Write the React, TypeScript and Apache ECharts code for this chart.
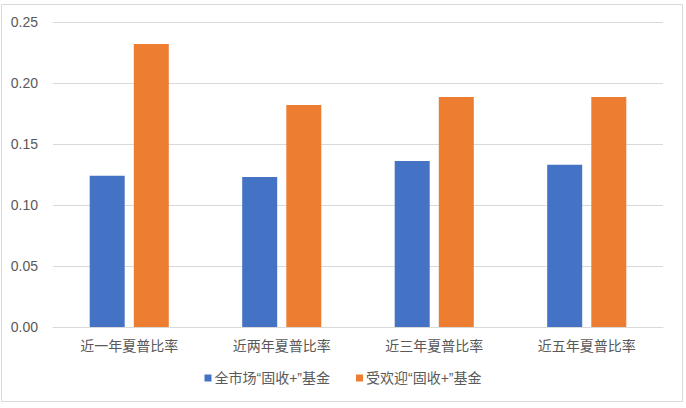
import React, { useEffect, useRef } from "react";
import * as echarts from "echarts";

const categories = ["近一年夏普比率", "近两年夏普比率", "近三年夏普比率", "近五年夏普比率"];
const seriesNames = ["全市场“固收+”基金", "受欢迎“固收+”基金"];
const allMarket = [0.124, 0.123, 0.136, 0.133];
const popular = [0.232, 0.182, 0.1885, 0.1885];

const FONT = "'Liberation Sans', Arial, 'Noto Sans CJK SC', sans-serif";
const TEXT = "#595959";
const GRID = "#d9d9d9";

export default function App() {
  const ref = useRef<HTMLDivElement>(null);
  useEffect(() => {
    document.body.style.margin = "0";
    const chart = echarts.init(ref.current!, null, { renderer: "svg" });
    chart.setOption({
      animation: false,
      backgroundColor: "#ffffff",
      textStyle: { fontFamily: FONT },
      graphic: [
        {
          type: "rect",
          shape: { x: 1.5, y: 4.5, width: 681, height: 397 },
          style: { fill: "none", stroke: GRID, lineWidth: 1 },
          silent: true,
        },
      ],
      grid: { left: 53, right: 23, top: 22, bottom: 81, containLabel: false },
      legend: {
        bottom: 18,
        left: "center",
        itemWidth: 7,
        itemHeight: 7,
        itemGap: 26,
        icon: "rect",
        textStyle: { color: TEXT, fontSize: 14, fontFamily: FONT, padding: [0, 0, 0, -2] },
        data: seriesNames,
      },
      xAxis: {
        type: "category",
        data: categories,
        axisLine: { show: true, lineStyle: { color: GRID, width: 1 } },
        axisTick: { show: false },
        axisLabel: { color: TEXT, fontSize: 14, margin: 12, fontFamily: FONT },
      },
      yAxis: {
        type: "value",
        min: 0,
        max: 0.25,
        interval: 0.05,
        axisLine: { show: false },
        axisTick: { show: false },
        splitLine: { lineStyle: { color: GRID, width: 1 } },
        axisLabel: {
          color: TEXT,
          fontSize: 14,
          margin: 15,
          fontFamily: FONT,
          formatter: (v: number) => v.toFixed(2),
        },
      },
      series: [
        {
          name: seriesNames[0],
          type: "bar",
          data: allMarket,
          barWidth: 35,
          barGap: "26%",
          itemStyle: { color: "#4472C4" },
        },
        {
          name: seriesNames[1],
          type: "bar",
          data: popular,
          barWidth: 35,
          barGap: "26%",
          itemStyle: { color: "#ED7D31" },
        },
      ],
    });
    return () => chart.dispose();
  }, []);
  return (
    <div
      ref={ref}
      style={{ position: "absolute", left: 0, top: 0, width: 686, height: 408 }}
    />
  );
}
